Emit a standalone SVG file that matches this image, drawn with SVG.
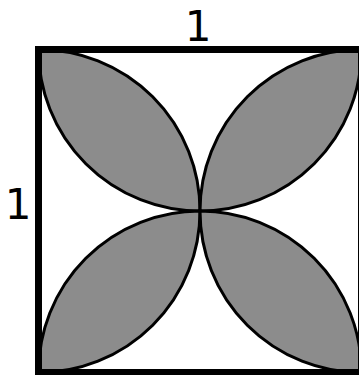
<svg xmlns="http://www.w3.org/2000/svg" width="359" height="375" viewBox="0 0 359 375">
<style>
.leaf{fill:#8c8c8c;stroke:#000;stroke-width:3}
.lbl{font-family:"DejaVu Sans",sans-serif;font-size:42px;fill:#000;text-anchor:middle}
</style>
<rect width="359" height="375" fill="#fff"/>
<g id="leaves">
<path id="leaf-ul" class="leaf" d="M38.5,49.5 A161.5,161.5 0 0 1 200,211 A161.5,161.5 0 0 1 38.5,49.5 Z"/>
<path id="leaf-ur" class="leaf" d="M361.5,49.5 A161.5,161.5 0 0 0 200,211 A161.5,161.5 0 0 0 361.5,49.5 Z"/>
<path id="leaf-ll" class="leaf" d="M38.5,372.5 A161.5,161.5 0 0 0 200,211 A161.5,161.5 0 0 0 38.5,372.5 Z"/>
<path id="leaf-lr" class="leaf" d="M361.5,372.5 A161.5,161.5 0 0 1 200,211 A161.5,161.5 0 0 1 361.5,372.5 Z"/>
</g>
<rect id="square" x="38.5" y="49.5" width="323" height="323" fill="none" stroke="#000" stroke-width="7"/>
<text class="lbl" x="198" y="40.5">1</text>
<text class="lbl" x="18" y="219">1</text>
</svg>
